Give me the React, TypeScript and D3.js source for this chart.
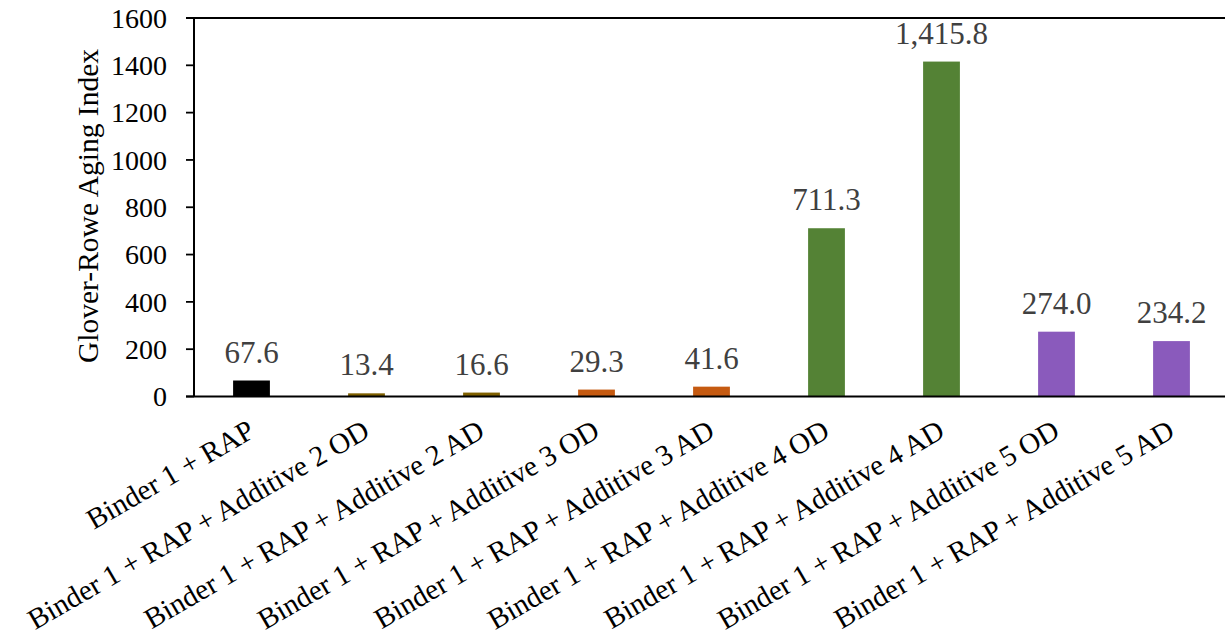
import React from "react";
import * as d3 from "d3";

const categories = [
  "Binder 1 + RAP",
  "Binder 1 + RAP + Additive 2 OD",
  "Binder 1 + RAP + Additive 2 AD",
  "Binder 1 + RAP + Additive 3 OD",
  "Binder 1 + RAP + Additive 3 AD",
  "Binder 1 + RAP + Additive 4 OD",
  "Binder 1 + RAP + Additive 4 AD",
  "Binder 1 + RAP + Additive 5 OD",
  "Binder 1 + RAP + Additive 5 AD",
];
const values = [67.6, 13.4, 16.6, 29.3, 41.6, 711.3, 1415.8, 274.0, 234.2];
const barColors = ["#000000", "#7F6000", "#7F6000", "#C55A11", "#C55A11", "#548235", "#548235", "#8A5ABC", "#8A5ABC"];
const yTicks = [0, 200, 400, 600, 800, 1000, 1200, 1400, 1600];
const yLabel = "Glover-Rowe Aging Index";

const W = 1225;
const H = 639;
const left = 194;
const top = 18;
const bottom = 396.5;
const band = 115;
const font = "'Liberation Serif', 'Times New Roman', serif";

export default function App() {
  const x = d3
    .scaleBand<string>()
    .domain(categories)
    .range([left, left + band * categories.length])
    .paddingInner(0.68)
    .paddingOuter(0.34);
  const y = d3.scaleLinear().domain([0, 1600]).range([bottom, top]);
  const fmt = d3.format(",.1f");
  const right = left + band * categories.length;

  return (
    <div style={{ position: "absolute", left: 0, top: 0 }}>
      <svg width={W} height={H} style={{ display: "block", background: "#fff" }}>
        {categories.map((c, i) => (
          <rect
            key={c}
            x={x(c)}
            y={y(values[i])}
            width={x.bandwidth()}
            height={y(0) - y(values[i])}
            fill={barColors[i]}
          />
        ))}
        <line x1={left} x2={left} y1={top} y2={bottom} stroke="#000" strokeWidth={2} />
        <line x1={left - 8} x2={right} y1={top} y2={top} stroke="#000" strokeWidth={1.8} />
        <line x1={left - 8} x2={right} y1={bottom} y2={bottom} stroke="#000" strokeWidth={2} />
        {yTicks.map((t) => (
          <g key={t}>
            <line x1={left - 8} x2={left} y1={y(t)} y2={y(t)} stroke="#000" strokeWidth={1.8} />
            <text
              x={167}
              y={y(t)}
              dy="0.35em"
              textAnchor="end"
              fontFamily={font}
              fontSize={28}
              fill="#000"
            >
              {t}
            </text>
          </g>
        ))}
        <text
          transform={`translate(98, 206) rotate(-90)`}
          textAnchor="middle"
          fontFamily={font}
          fontSize={29.5}
          fill="#000"
        >
          {yLabel}
        </text>
        {categories.map((c, i) => (
          <text
            key={"l" + c}
            x={(x(c) as number) + x.bandwidth() / 2}
            y={y(values[i]) - 18}
            textAnchor="middle"
            fontFamily={font}
            fontSize={31}
            fill="#404040"
          >
            {fmt(values[i])}
          </text>
        ))}
        {categories.map((c) => (
          <text
            key={"x" + c}
            transform={`translate(${(x(c) as number) + x.bandwidth() / 2 + 5}, 436) rotate(-30)`}
            textAnchor="end"
            fontFamily={font}
            fontSize={29}
            fill="#000"
          >
            {c}
          </text>
        ))}
      </svg>
    </div>
  );
}
